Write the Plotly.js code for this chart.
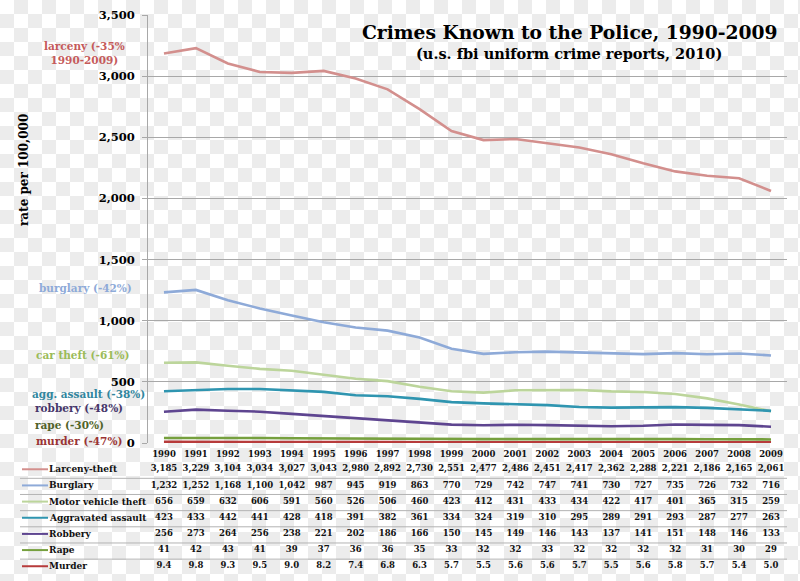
<!DOCTYPE html>
<html>
<head>
<meta charset="utf-8">
<script src="https://cdn.plot.ly/plotly-3.0.1.min.js"></script>
<style>
html,body{margin:0;padding:0;}
body{width:800px;height:581px;overflow:hidden;
background:repeating-conic-gradient(#ececec 0 25%, #ffffff 0 50%) 0 0/28px 28px;}
#chart{width:800px;height:581px;}
</style>
</head>
<body>
<div id="chart"></div>
<script>
const years = [1990,1991,1992,1993,1994,1995,1996,1997,1998,1999,2000,2001,2002,2003,2004,2005,2006,2007,2008,2009];
const larceny  = [3185,3229,3104,3034,3027,3043,2980,2892,2730,2551,2477,2486,2451,2417,2362,2288,2221,2186,2165,2061];
const burglary = [1232,1252,1168,1100,1042,987,945,919,863,770,729,742,747,741,730,727,735,726,732,716];
const motorVehicleTheft = [656,659,632,606,591,560,526,506,460,423,412,431,433,434,422,417,401,365,315,259];
const aggravatedAssault = [423,433,442,441,428,418,391,382,361,334,324,319,310,295,289,291,293,287,277,263];
const robbery  = [256,273,264,256,238,221,202,186,166,150,145,149,146,143,137,141,151,148,146,133];
const rape     = [41,42,43,41,39,37,36,36,35,33,32,32,33,32,32,32,32,31,30,29];
const murder   = [9.4,9.8,9.3,9.5,9.0,8.2,7.4,6.8,6.3,5.7,5.5,5.6,5.6,5.7,5.5,5.6,5.8,5.7,5.4,5.0];

const seriesNames = ["Larceny-theft","Burglary","Motor vehicle theft","Aggravated assault","Robbery","Rape","Murder"];
const sideLabels = ["larceny (-35%<br>1990-2009)","burglary (-42%)","car theft (-61%)","agg. assault (-38%)","robbery (-48%)","rape (-30%)","murder (-47%)"];
const yTicks = [0,500,1000,1500,2000,2500,3000,3500];

const seriesData = [larceny,burglary,motorVehicleTheft,aggravatedAssault,robbery,rape,murder];
const lineColors = ["#d38f8d","#8eaad8","#bcd59b","#2f95b0","#5e4590","#76a03e","#b73b3b"];
const labelColors = ["#c55a5a","#8eaad8","#9bbb59","#31869e","#46366a","#4f6228","#9a3434"];

const FONT = "DejaVu Serif";
// pixel helpers for layout placement (plot area: left 148, width 639; top 15, height 559)
const px = x => (x-148)/639;
const py = y => (574-y)/559;

const traces = [];
seriesData.forEach((d,i)=>{
  traces.push({x:years,y:d,type:'scatter',mode:'lines',name:seriesNames[i],
    line:{color:lineColors[i],width:2.6},xaxis:'x',yaxis:'y',hoverinfo:'skip',showlegend:false});
});
function fmt(v,i){
  if(i===6) return v.toFixed(1);
  return v.toLocaleString('en-US');
}
seriesData.forEach((d,i)=>{
  traces.push({x:years,y:years.map(()=>i),type:'scatter',mode:'text',
    text:d.map(v=>fmt(v,i)),textposition:'middle center',
    textfont:{family:FONT,size:8.5,color:'#111',weight:'bold'},
    xaxis:'x',yaxis:'y2',hoverinfo:'skip',showlegend:false,cliponaxis:false});
});

const shapes = [];
const annotations = [];
for(let i=0;i<6;i++){
  shapes.push({type:'line',xref:'paper',yref:'y2',x0:px(20),x1:1,y0:i+0.56,y1:i+0.56,
    line:{color:'#b3b3b3',width:1}});
}
seriesNames.forEach((n,i)=>{
  shapes.push({type:'line',xref:'paper',yref:'y2',x0:px(22),x1:px(48),y0:i,y1:i,
    line:{color:lineColors[i],width:2}});
  annotations.push({xref:'paper',yref:'y2',x:px(47),y:i,text:n,xanchor:'left',yanchor:'middle',
    showarrow:false,font:{family:FONT,size:9,color:'#111',weight:'bold'}});
});
const sidePos = [[84,53],[85,288],[82,355],[88,394],[79,408],[69,425],[79,441]];
sideLabels.forEach((t,i)=>{
  annotations.push({xref:'paper',yref:'paper',x:px(sidePos[i][0]),y:py(sidePos[i][1]),text:t,
    xanchor:'center',yanchor:'middle',showarrow:false,
    font:{family:FONT,size:10.5,color:labelColors[i],weight:'bold'}});
});
annotations.push({xref:'paper',yref:'paper',x:px(569),y:py(32),text:'Crimes Known to the Police, 1990-2009',
  showarrow:false,xanchor:'center',yanchor:'middle',font:{family:FONT,size:18.7,color:'#000',weight:'bold'}});
annotations.push({xref:'paper',yref:'paper',x:px(569),y:py(53),text:'(u.s. fbi uniform crime reports, 2010)',
  showarrow:false,xanchor:'center',yanchor:'middle',font:{family:FONT,size:14.5,color:'#000',weight:'bold'}});
annotations.push({xref:'paper',yref:'paper',x:px(24),y:py(170),text:'rate per 100,000',textangle:-90,
  showarrow:false,xanchor:'center',yanchor:'middle',font:{family:FONT,size:12,color:'#000',weight:'bold'}});

const layout = {
  width:800,height:581,
  margin:{l:148,r:13,t:15,b:7,pad:0},
  paper_bgcolor:'rgba(0,0,0,0)',plot_bgcolor:'rgba(0,0,0,0)',
  showlegend:false,
  xaxis:{range:[1989.5,2009.5],tickmode:'array',tickvals:years,ticktext:years.map(String),
    showgrid:false,zeroline:false,showline:false,ticks:'',anchor:'y',
    tickfont:{family:FONT,size:8.5,color:'#111',weight:'bold'},ticklabelstandoff:4},
  yaxis:{domain:[py(443),1],range:[0,3500],tickmode:'array',tickvals:yTicks,
    ticktext:yTicks.map(v=>v.toLocaleString('en-US')),
    showgrid:true,gridcolor:'#a8a8a8',gridwidth:1,zeroline:false,
    showline:true,linecolor:'#a8a8a8',linewidth:1,ticks:'outside',ticklen:5,tickcolor:'#a8a8a8',
    tickfont:{family:FONT,size:11.5,color:'#000',weight:'bold'},ticklabelstandoff:5},
  yaxis2:{domain:[0,py(446)],range:[6.48,-1.44],visible:false,anchor:'x'},
  shapes:shapes,annotations:annotations
};
Plotly.newPlot('chart',traces,layout,{staticPlot:true,displayModeBar:false});
</script>
</body>
</html>
